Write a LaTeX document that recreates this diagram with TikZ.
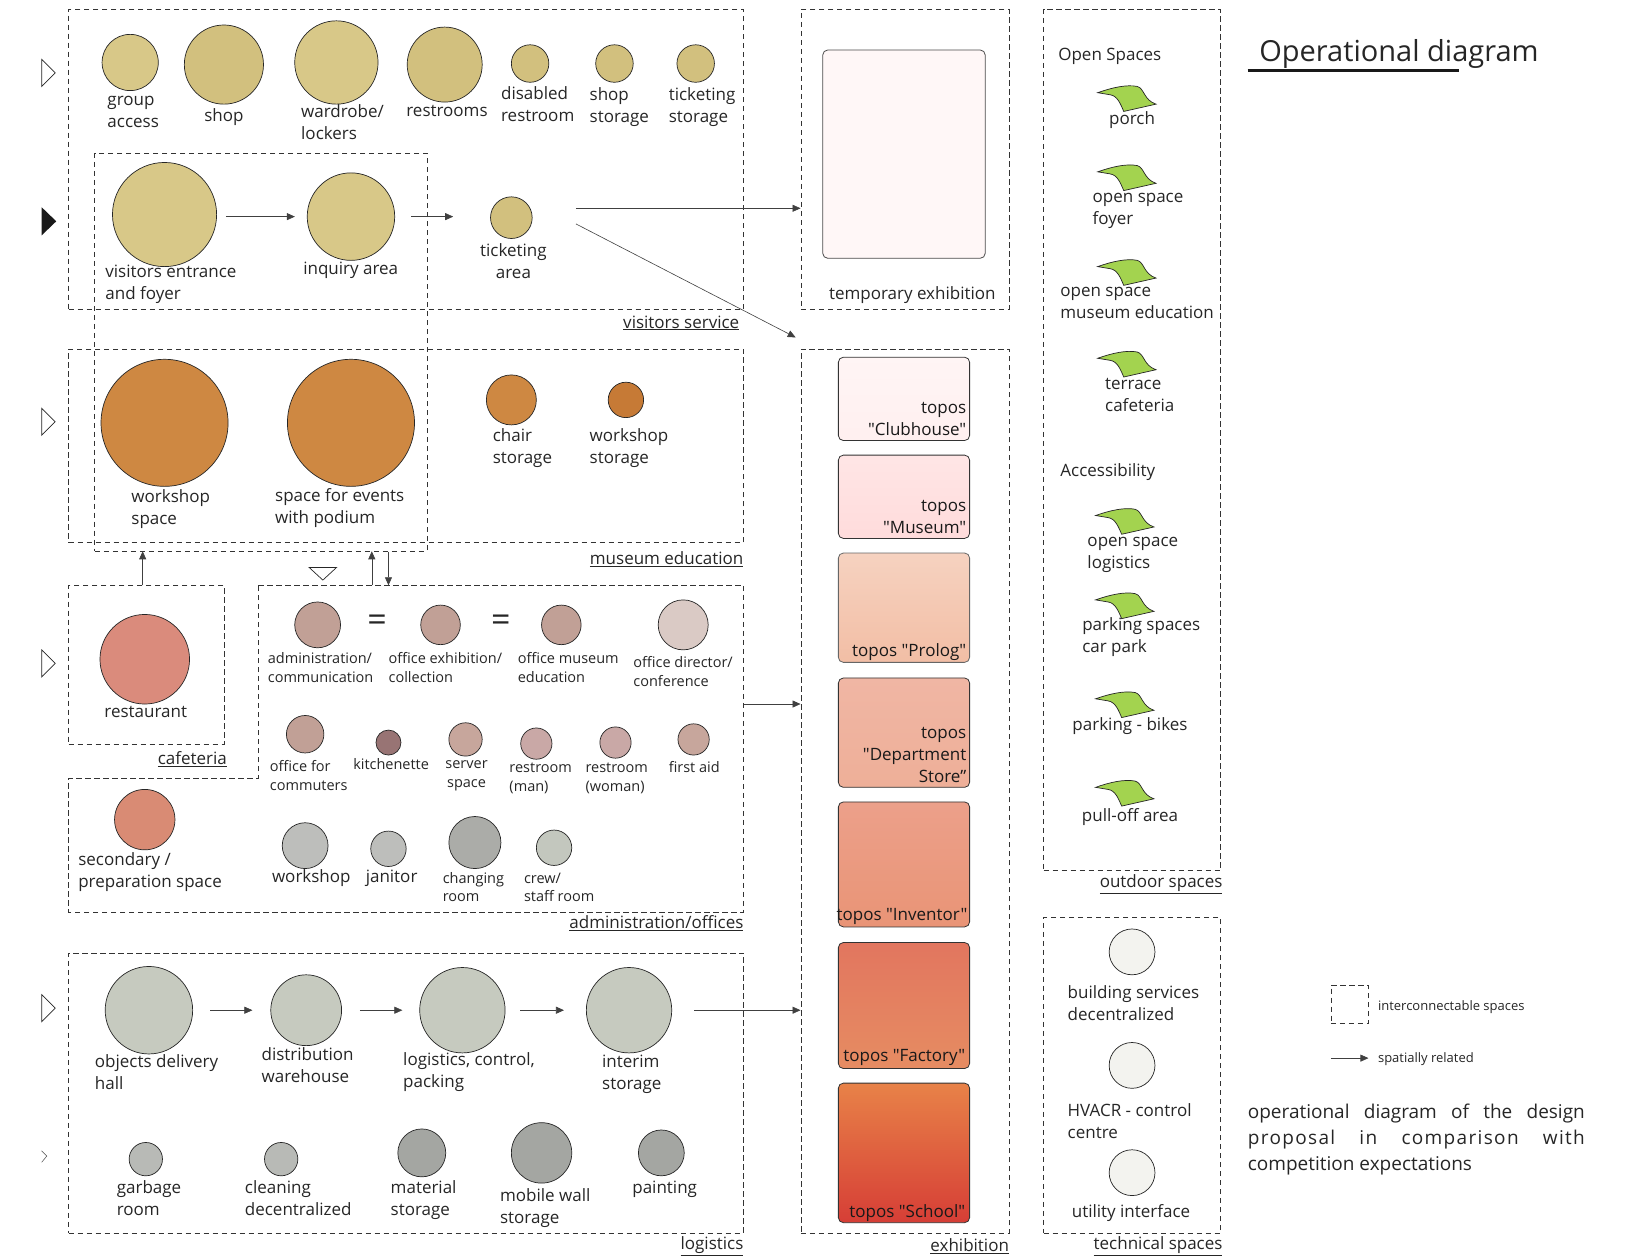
\documentclass[tikz,border=0pt]{standalone}
\usepackage{fontspec}
\setmainfont{Open Sans}
\newfontfamily\qfont{Open Sans}
\usetikzlibrary{arrows.meta,fit}
\definecolor{txt}{HTML}{262626}
\definecolor{vsA}{HTML}{D8C888}
\definecolor{vsB}{HTML}{D2C07E}
\definecolor{meA}{HTML}{CE8842}
\definecolor{meB}{HTML}{C67A36}
\definecolor{rstc}{HTML}{DA8B7C}
\definecolor{secc}{HTML}{D98B74}
\definecolor{admA}{HTML}{C1A096}
\definecolor{admB}{HTML}{C7A69C}
\definecolor{kitc}{HTML}{987474}
\definecolor{dirc}{HTML}{DACAC5}
\definecolor{rrc}{HTML}{C9A8A6}
\definecolor{grA}{HTML}{BDBEBB}
\definecolor{grB}{HTML}{ABACA8}
\definecolor{crwc}{HTML}{C3C7BE}
\definecolor{lgA}{HTML}{C6CABF}
\definecolor{lgB}{HTML}{B8BAB6}
\definecolor{lgC}{HTML}{A4A6A2}
\definecolor{tec}{HTML}{F3F3EF}
\definecolor{leafg}{HTML}{A3D34F}
\newcommand\myL{\fontsize{17}{22}\selectfont}
\newcommand\myS{\fontsize{14.5}{18.8}\selectfont}
\newcommand\myT{\fontsize{13}{16}\selectfont}
\newcommand\myH{\fontsize{29}{34}\selectfont}
\newcommand\myP{\fontsize{19}{26}\selectfont}
\newcommand\myEq{\fontsize{34}{34}\selectfont}
\tikzset{
 dbox/.style={draw=black!80, dash pattern=on 5.5pt off 3.5pt, line width=0.7pt, inner sep=0pt},
 cir/.style={circle, draw=black!85, line width=0.7pt, fill=#1, inner sep=0pt},
 rad/.style={minimum size=#1*2.083pt},
 lb/.style={font=\myL, align=left, anchor=base west, inner sep=0pt, text=txt},
 lbs/.style={lb, font=\myS},
 lbc/.style={lb, align=center, anchor=base},
 sec/.style={font=\myL, anchor=base east, inner sep=0pt, text=txt},
 arr/.style={draw=black!75, line width=0.6pt, -{Triangle[length=8pt,width=7pt]}},
 topo/.style={draw=black!80, line width=0.8pt, rounded corners=5pt, inner sep=0pt},
 tlab/.style={font=\qfont\myL, align=right, anchor=base east, inner sep=0pt, text=black!90},
 side/.style={draw=black!85, line width=0.7pt},
 leafpic/.pic={\draw[draw=black!85, line width=0.7pt, fill=leafg] (-28,-6) .. controls (-14,-11) and (0,-14) .. (10,-12) .. controls (17,-10) and (16,1) .. (28,5) -- (-3,12) .. controls (-6,5) and (-9,-3) .. (-16,-4) -- cycle;}
}
\begin{document}
\begin{tikzpicture}[x=1.0415pt,y=-1.0415pt]
\fill[white] (0,0) rectangle (1568,1206);
\useasboundingbox (0,0) rectangle (1568,1206);

% ---------- left side markers
\draw[side] (40,57) -- (53,70) -- (40,83) -- cycle;
\fill[black!90] (40,199) -- (54,212.5) -- (40,226) -- cycle;
\draw[side] (40,392) -- (53,405) -- (40,418) -- cycle;
\draw[side] (40,624) -- (53,637) -- (40,650) -- cycle;
\draw[side] (40,955) -- (53,968) -- (40,981) -- cycle;
\draw[draw=black!70, line width=0.5pt] (40,1105) -- (45,1110) -- (40,1116);

% ---------- boxes
\node[dbox, fit={(66,9) (714,297)}] (vis) {};
\node[dbox, fit={(91,147) (410,529)}] (ibox) {};
\node[dbox, fit={(66,335) (714,521)}] (med) {};
\node[dbox, fit={(66,562) (215,715)}] (caf) {};
\draw[dbox] (248,562) -- (714,562) -- (714,876) -- (66,876) -- (66,747) -- (248,747) -- cycle;
\coordinate (admTL) at (248,562);
\coordinate (admR) at (714,676);
\node[dbox, fit={(66,915) (714,1184)}] (logi) {};
\node[dbox, fit={(769,9) (969,297)}] (tmp) {};
\node[dbox, fit={(769,335) (969,1184)}] (exh) {};
\node[dbox, fit={(1002,9) (1172,836)}] (outd) {};
\node[dbox, fit={(1002,881) (1172,1184)}] (tech) {};

% ---------- visitors service
\node[cir=vsA, rad=27] (grp) at (125,60) {};
\node[cir=vsB, rad=38] (shop) at (215,62) {};
\node[cir=vsA, rad=40] (ward) at (323,60) {};
\node[cir=vsB, rad=36] (rest) at (427,62) {};
\node[cir=vsB, rad=18] (dis) at (509,61) {};
\node[cir=vsB, rad=18] (shst) at (590,61) {};
\node[cir=vsB, rad=18] (tkst) at (668,61) {};
\node[lb] (lgrp) at (103,122) {group\\access};
\node[lb] (lshop) at (196,117) {shop};
\node[lb] (lward) at (289,134) {wardrobe/\\lockers};
\node[lb] (lrest) at (390,112) {restrooms};
\node[lb] (ldis) at (481,117) {disabled\\restroom};
\node[lb] (lshst) at (566,118) {shop\\storage};
\node[lb] (ltkst) at (642,118) {ticketing\\storage};

\node[cir=vsA, rad=50] (vef) at (158,206) {};
\node[cir=vsA, rad=42] (inq) at (337,208) {};
\node[cir=vsB, rad=20] (tick) at (491,209) {};
\node[lb] (lvef) at (101,288) {visitors entrance\\and foyer};
\node[lb] (linq) at (291,264) {inquiry area};
\node[lbc] (ltick) at (493,267) {ticketing\\area};
\draw[arr, shorten <=9pt, shorten >=12pt] (vef.east |- inq.west) -- (inq.west);
\draw[arr, shorten <=16pt, shorten >=37pt] (inq.east) -- (tick.west |- inq.east);
\coordinate (tkA) at (553,200);
\draw[arr] (tkA) -- (tmp.west |- tkA);
\coordinate (tkB) at (553,215);
\coordinate (exhTip) at (764,324);
\draw[arr] (tkB) -- (exhTip);
\node[sec] (lvis) at (710,315) {\underline{visitors service}};

% ---------- temporary exhibition
\node[topo, draw=black!70, fill=red!3, fit={(790,48) (946,248)}] (tmpin) {};
\node[lbc] (ltmp) at (876,288) {temporary exhibition};

% ---------- museum education
\node[cir=meA, rad=61] (wsp) at (158,406) {};
\node[cir=meA, rad=61] (evt) at (337,406) {};
\node[cir=meA, rad=24] (chst) at (491,384) {};
\node[cir=meB, rad=17] (wsst) at (601,384) {};
\node[lb] (lwsp) at (126,504) {workshop\\space};
\node[lb] (levt) at (264,503) {space for events\\with podium};
\node[lb] (lchst) at (473,445) {chair\\storage};
\node[lb] (lwsst) at (566,445) {workshop\\storage};
\node[sec] (lmed) at (714,542) {\underline{museum education}};

% ---------- cafeteria
\node[cir=rstc, rad=43] (rst) at (139,633) {};
\node[lbc] (lrst) at (140,689) {restaurant};
\node[sec] (lcaf) at (218,734) {\underline{cafeteria}};
\coordinate (cafUp) at (137,562);
\draw[arr] (cafUp) -- (cafUp |- ibox.south);

% ---------- administration
\draw[side] (297,545) -- (323,545) -- (310,557) -- cycle;
\coordinate (admUp) at (357,562);
\draw[arr] (admUp) -- (admUp |- ibox.south);
\coordinate (admDn) at (373,530);
\draw[arr] (admDn) -- (admDn |- admTL);

\node[cir=admA, rad=22] (adm) at (305,600) {};
\node[cir=admA, rad=19] (ofx) at (423,600) {};
\node[cir=admA, rad=19] (ofm) at (539,600) {};
\node[cir=dirc, rad=24] (ofd) at (656,600) {};
\node[font=\myEq, inner sep=0pt, text=txt] (eq1) at (362,598) {=};
\node[font=\myEq, inner sep=0pt, text=txt] (eq2) at (481,598) {=};
\node[lbs] (ladm) at (257,655) {administration/\\communication};
\node[lbs] (lofx) at (373,655) {office exhibition/\\collection};
\node[lbs] (lofm) at (497,655) {office museum\\education};
\node[lbs] (lofd) at (608,659) {office director/\\conference};

\node[cir=admA, rad=18] (ofc) at (293,705) {};
\node[cir=kitc, rad=12] (kit) at (373,713) {};
\node[cir=admB, rad=16] (srv) at (447,710) {};
\node[cir=rrc, rad=15] (rm) at (515,714) {};
\node[cir=rrc, rad=15] (rw) at (591,713) {};
\node[cir=admB, rad=15] (fa) at (666,710) {};
\node[lbs] (lofc) at (259,759) {office for\\commuters};
\node[lbs] (lkit) at (339,739) {kitchenette};
\node[lbs, align=center, anchor=base] (lsrv) at (448,756) {server\\space};
\node[lbs] (lrm) at (489,760) {restroom\\(man)};
\node[lbs] (lrw) at (562,760) {restroom\\(woman)};
\node[lbs] (lfa) at (642,742) {first aid};

\node[cir=secc, rad=29] (sec) at (139,787) {};
\node[lb] (lsec) at (75,852) {secondary /\\preparation space};
\node[cir=grA, rad=22] (wks) at (293,812) {};
\node[cir=grA, rad=17] (jan) at (373,815) {};
\node[cir=grB, rad=25] (chg) at (456,809) {};
\node[cir=crwc, rad=17] (crw) at (532,814) {};
\node[lb] (lwks) at (261,847) {workshop};
\node[lb] (ljan) at (351,847) {janitor};
\node[lbs] (lchg) at (425,866) {changing\\room};
\node[lbs] (lcrw) at (503,866) {crew/\\staff room};
\node[sec] (ladmo) at (714,892) {\underline{administration/offices}};
\draw[arr] (admR) -- (exh.west |- admR);

% ---------- logistics
\node[cir=lgA, rad=42] (odh) at (143,970) {};
\node[cir=lgA, rad=34] (dst) at (294,970) {};
\node[cir=lgA, rad=41] (lcp) at (444,970) {};
\node[cir=lgA, rad=41] (ist) at (604,970) {};
\draw[arr, shorten <=17pt, shorten >=18pt] (odh.east) -- (dst.west);
\draw[arr, shorten <=18pt, shorten >=17pt] (dst.east) -- (lcp.west);
\draw[arr, shorten <=15pt, shorten >=22pt] (lcp.east) -- (ist.west);
\draw[arr, shorten <=22pt] (ist.east) -- (exh.west |- ist.east);
\node[lb] (lodh) at (91,1046) {objects delivery\\hall};
\node[lb] (ldst) at (251,1039) {distribution\\warehouse};
\node[lb] (llcp) at (387,1044) {logistics, control,\\packing};
\node[lb] (list) at (578,1046) {interim\\storage};

\node[cir=lgB, rad=16] (gar) at (140,1113) {};
\node[cir=lgB, rad=16] (cln) at (270,1113) {};
\node[cir=lgC, rad=23] (mat) at (405,1107) {};
\node[cir=lgC, rad=29] (mob) at (520,1107) {};
\node[cir=lgC, rad=22] (pnt) at (635,1107) {};
\node[lb] (lgar) at (112,1167) {garbage\\room};
\node[lb] (lcln) at (235,1167) {cleaning\\decentralized};
\node[lb] (lmat) at (375,1167) {material\\storage};
\node[lb] (lmob) at (480,1175) {mobile wall\\storage};
\node[lb] (lpnt) at (607,1146) {painting};
\node[sec] (llog) at (714,1200) {\underline{logistics}};

% ---------- exhibition
\node[topo, top color=red!4, bottom color=red!6, fit={(805,343) (931,423)}] (tclub) {};
\node[topo, top color=red!10, bottom color=red!14, fit={(805,437) (931,517)}] (tmus) {};
\node[topo, draw=black!60, top color={rgb,255:red,246;green,210;blue,192}, bottom color={rgb,255:red,242;green,190;blue,165}, fit={(805,531) (931,636)}] (tpro) {};
\node[topo, top color={rgb,255:red,240;green,182;blue,164}, bottom color={rgb,255:red,238;green,175;blue,152}, fit={(805,651) (931,756)}] (tdep) {};
\node[topo, top color={rgb,255:red,236;green,160;blue,138}, bottom color={rgb,255:red,233;green,148;blue,118}, fit={(805,770) (931,890)}] (tinv) {};
\node[topo, top color={rgb,255:red,226;green,118;blue,95}, bottom color={rgb,255:red,230;green,140;blue,98}, fit={(805,905) (931,1026)}] (tfac) {};
\node[topo, top color={rgb,255:red,232;green,130;blue,72}, bottom color={rgb,255:red,214;green,62;blue,54}, fit={(805,1040) (931,1174)}] (tsch) {};
\node[tlab] (ltclub) at (928,418) {topos\\"Clubhouse"};
\node[tlab] (ltmus) at (928,512) {topos\\"Museum"};
\node[tlab] (ltpro) at (928,630) {topos "Prolog"};
\node[tlab] (ltdep) at (928,751) {topos\\"Department\\Store”};
\node[tlab] (ltinv) at (929,884) {topos "Inventor"};
\node[tlab] (ltfac) at (927,1019) {topos "Factory"};
\node[tlab] (ltsch) at (927,1169) {topos "School"};
\node[sec] (lexh) at (969,1202) {\underline{exhibition}};

% ---------- outdoor spaces
\node[lb] (lopen) at (1016,58) {Open Spaces};
\pic at (1082,95) {leafpic};
\node[lbc] (lporch) at (1087,120) {porch};
\pic at (1082,171) {leafpic};
\node[lb] (lfoy) at (1049,216) {open space\\foyer};
\pic at (1082,262) {leafpic};
\node[lb] (lome) at (1018,306) {open space\\museum education};
\pic at (1082,350) {leafpic};
\node[lb] (lter) at (1061,395) {terrace\\cafeteria};
\node[lb] (lacc) at (1018,458) {Accessibility};
\pic at (1080,501) {leafpic};
\node[lb] (lolog) at (1044,546) {open space\\logistics};
\pic at (1080,582) {leafpic};
\node[lb] (lpark) at (1039,627) {parking spaces\\car park};
\pic at (1080,677) {leafpic};
\node[lbc] (lbike) at (1085,701) {parking - bikes};
\pic at (1080,762) {leafpic};
\node[lbc] (lpull) at (1085,789) {pull-off area};
\node[sec] (loutd) at (1174,852) {\underline{outdoor spaces}};

% ---------- technical spaces
\node[cir=tec, rad=22] (bsd) at (1087,914) {};
\node[cir=tec, rad=22] (hva) at (1087,1023) {};
\node[cir=tec, rad=22] (uti) at (1087,1126) {};
\node[lb] (lbsd) at (1025,980) {building services\\decentralized};
\node[lb] (lhva) at (1025,1093) {HVACR - control\\centre};
\node[lbc] (luti) at (1086,1169) {utility interface};
\node[sec] (ltech) at (1174,1200) {\underline{technical spaces}};

% ---------- title, legend, note
\node[font=\myH, anchor=base west, inner sep=0pt, text=txt] (title) at (1209,59) {Operational diagram};
\coordinate (ulA) at (1198,68);
\coordinate (ulB) at (1401,68);
\draw[line width=3pt, black!90] (ulA) -- (ulB);

\node[dbox, fit={(1278,946) (1314,983)}] (legbox) {};
\node[font=\myT, anchor=base west, inner sep=0pt, text=txt] (legt1) at (1323,970) {interconnectable spaces};
\coordinate (legA) at (1278,1016);
\coordinate (legB) at (1314,1016);
\draw[arr] (legA) -- (legB);
\node[font=\myT, anchor=base west, inner sep=0pt, text=txt] (legt2) at (1323,1020) {spatially related};

\node[font=\myP, text width=337pt, align=justify, anchor=north west, inner sep=0pt, text=txt] (note) at (1198,1060)
 {operational diagram of the design\linebreak {\addfontfeature{LetterSpace=7}proposal in comparison with}\linebreak competition expectations};
\end{tikzpicture}
\end{document}
